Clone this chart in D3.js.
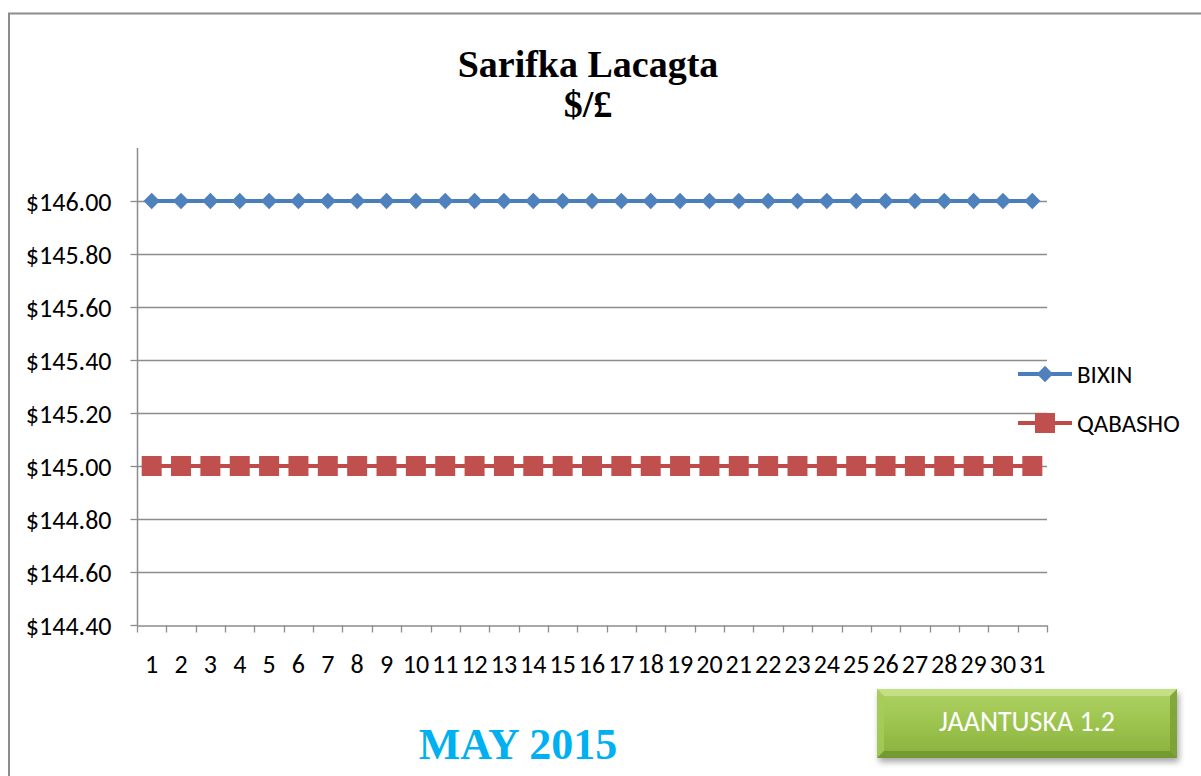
<!DOCTYPE html>
<html>
<head>
<meta charset="utf-8">
<script src="https://cdn.jsdelivr.net/npm/d3@7"></script>
<style>
  body { margin: 0; background: #fff; }
  svg { display: block; }
</style>
</head>
<body>
<svg id="chart"></svg>
<script>
(function() {

    // chart data
    const days = d3.range(1, 32).map(String);
    const bixin = [146.00, 146.00, 146.00, 146.00, 146.00, 146.00, 146.00, 146.00, 146.00, 146.00,
                   146.00, 146.00, 146.00, 146.00, 146.00, 146.00, 146.00, 146.00, 146.00, 146.00,
                   146.00, 146.00, 146.00, 146.00, 146.00, 146.00, 146.00, 146.00, 146.00, 146.00, 146.00];
    const qabasho = [145.00, 145.00, 145.00, 145.00, 145.00, 145.00, 145.00, 145.00, 145.00, 145.00,
                     145.00, 145.00, 145.00, 145.00, 145.00, 145.00, 145.00, 145.00, 145.00, 145.00,
                     145.00, 145.00, 145.00, 145.00, 145.00, 145.00, 145.00, 145.00, 145.00, 145.00, 145.00];
    const yTicks = [144.4, 144.6, 144.8, 145.0, 145.2, 145.4, 145.6, 145.8, 146.0];
    const seriesNames = ['BIXIN', 'QABASHO'];

    const w = 1201;
    const h = 776;
    const labelFont = 'Carlito, Calibri, Lato, sans-serif';

    const svg = d3.select('#chart')
        .attr('width', w)
        .attr('height', h);

    // outer frame
    svg.append('path')
        .attr('d', 'M9,776 V13.5 H1201')
        .attr('fill', 'none')
        .attr('stroke', '#8c8c8c')
        .attr('stroke-width', 2);

    const x = d3.scaleBand().domain(days).range([137, 1047]);
    const y = d3.scaleLinear().domain([144.4, 146.2]).range([625, 148]);

    // gridlines
    svg.append('g')
        .selectAll('line')
        .data(yTicks.slice(1))
        .enter()
        .append('line')
        .attr('x1', 137)
        .attr('x2', 1047)
        .attr('y1', d => Math.round(y(d)) + 0.5)
        .attr('y2', d => Math.round(y(d)) + 0.5)
        .attr('stroke', '#8c8c8c')
        .attr('stroke-width', 1.3);

    // y axis
    const yAxis = svg.append('g')
        .attr('transform', 'translate(137.5,0)')
        .call(d3.axisLeft(y).tickValues(yTicks).tickSize(7).tickPadding(19)
            .tickFormat(d => '$' + d3.format('.2f')(d)));
    yAxis.select('.domain').attr('stroke', '#8c8c8c').attr('stroke-width', 1.5)
        .attr('d', 'M0,148V625');
    yAxis.selectAll('.tick line').attr('stroke', '#8c8c8c').attr('stroke-width', 1.3)
        .attr('x1', -7).attr('x2', 0);
    yAxis.selectAll('.tick text')
        .attr('fill', '#000')
        .style('font-family', labelFont)
        .style('font-size', '26px')
        .attr('dy', '0.35em');

    // x axis, ticks between categories
    const xAxis = svg.append('g')
        .attr('transform', 'translate(0,625.5)')
        .call(d3.axisBottom(x).tickSize(0).tickPadding(29));
    xAxis.select('.domain').attr('stroke', '#8c8c8c').attr('stroke-width', 1.5);
    xAxis.selectAll('.tick text')
        .attr('fill', '#000')
        .style('font-family', labelFont)
        .style('font-size', '26px');
    xAxis.selectAll('.between')
        .data(days.concat(['end']))
        .enter()
        .append('line')
        .attr('class', 'between')
        .attr('x1', (d, i) => Math.round(137 + i * x.step()) + 0.5)
        .attr('x2', (d, i) => Math.round(137 + i * x.step()) + 0.5)
        .attr('y1', 0)
        .attr('y2', 7)
        .attr('stroke', '#8c8c8c')
        .attr('stroke-width', 1.3);

    const cx = d => x(d) + x.bandwidth() / 2;
    const line = d3.line().x((d, i) => cx(days[i])).y(d => y(d));

    // BIXIN series
    svg.append('path')
        .datum(bixin)
        .attr('d', line)
        .attr('fill', 'none')
        .attr('stroke', '#4a7ebb')
        .attr('stroke-width', 4);
    svg.append('g')
        .selectAll('path')
        .data(bixin)
        .enter()
        .append('path')
        .attr('d', d3.symbol().type(d3.symbolDiamond2).size(170))
        .attr('transform', (d, i) => `translate(${cx(days[i])},${y(d)})`)
        .attr('fill', '#4f81bd');

    // QABASHO series
    svg.append('path')
        .datum(qabasho)
        .attr('d', line)
        .attr('fill', 'none')
        .attr('stroke', '#be4b48')
        .attr('stroke-width', 4);
    svg.append('g')
        .selectAll('rect')
        .data(qabasho)
        .enter()
        .append('rect')
        .attr('x', (d, i) => cx(days[i]) - 10)
        .attr('y', d => y(d) - 10)
        .attr('width', 20)
        .attr('height', 20)
        .attr('fill', '#c0504d');

    // legend
    const legend = svg.append('g');
    const legendY = [374, 423];
    const legendColors = ['#4a7ebb', '#be4b48'];
    seriesNames.forEach((name, i) => {
        const g = legend.append('g').attr('transform', `translate(0,${legendY[i]})`);
        g.append('line')
            .attr('x1', 1018).attr('x2', 1072)
            .attr('stroke', legendColors[i]).attr('stroke-width', 4);
        if (i === 0) {
            g.append('path')
                .attr('d', d3.symbol().type(d3.symbolDiamond2).size(170))
                .attr('transform', 'translate(1045,0)')
                .attr('fill', '#4f81bd');
        } else {
            g.append('rect')
                .attr('x', 1035).attr('y', -10).attr('width', 20).attr('height', 20)
                .attr('fill', '#c0504d');
        }
        g.append('text')
            .attr('x', 1077)
            .attr('dy', '0.35em')
            .style('font-family', labelFont)
            .style('font-size', '25px')
            .text(name);
    });

    // title
    const title = svg.append('text')
        .attr('text-anchor', 'middle')
        .style('font-family', '"Liberation Serif", "Times New Roman", serif')
        .style('font-weight', 'bold')
        .style('font-size', '38px');
    title.append('tspan').attr('x', 588).attr('y', 77).text('Sarifka Lacagta');
    title.append('tspan').attr('x', 588).attr('y', 117).text('$/£');

    // month caption
    svg.append('text')
        .attr('x', 518)
        .attr('y', 759)
        .attr('text-anchor', 'middle')
        .style('font-family', '"Liberation Serif", "Times New Roman", serif')
        .style('font-weight', 'bold')
        .style('font-size', '44px')
        .attr('fill', '#00b0f0')
        .text('MAY 2015');

    // green button
    const defs = svg.append('defs');
    const grad = defs.append('linearGradient')
        .attr('id', 'btn-grad').attr('x1', 0).attr('y1', 0).attr('x2', 0).attr('y2', 1);
    grad.append('stop').attr('offset', '0%').attr('stop-color', '#b0d165');
    grad.append('stop').attr('offset', '50%').attr('stop-color', '#9cc44e');
    grad.append('stop').attr('offset', '100%').attr('stop-color', '#88b03d');
    const shadow = defs.append('filter').attr('id', 'btn-shadow')
        .attr('x', '-10%').attr('y', '-10%').attr('width', '130%').attr('height', '140%');
    shadow.append('feDropShadow')
        .attr('dx', 2).attr('dy', 4).attr('stdDeviation', 3)
        .attr('flood-color', '#000').attr('flood-opacity', 0.35);

    const btn = svg.append('g');
    btn.append('rect')
        .attr('x', 877).attr('y', 689).attr('width', 300).attr('height', 69)
        .attr('fill', 'url(#btn-grad)')
        .attr('filter', 'url(#btn-shadow)');
    // bevel edges
    btn.append('path')
        .attr('d', 'M877,689 H1177 L1170,696 H884 Z')
        .attr('fill', '#c9e38d').attr('opacity', 0.8);
    btn.append('path')
        .attr('d', 'M877,689 L884,696 V751 L877,758 Z')
        .attr('fill', '#a6cc5a').attr('opacity', 0.8);
    btn.append('path')
        .attr('d', 'M1177,689 L1170,696 V751 L1177,758 Z')
        .attr('fill', '#789f33').attr('opacity', 0.8);
    btn.append('path')
        .attr('d', 'M877,758 L884,751 H1170 L1177,758 Z')
        .attr('fill', '#6e9430').attr('opacity', 0.8);
    btn.append('text')
        .attr('x', 1027)
        .attr('y', 721)
        .attr('dy', '0.35em')
        .attr('text-anchor', 'middle')
        .attr('fill', '#fff')
        .style('font-family', labelFont)
        .style('font-weight', 300)
        .style('font-size', '28px')
        .text('JAANTUSKA 1.2');

})();
</script>
</body>
</html>
